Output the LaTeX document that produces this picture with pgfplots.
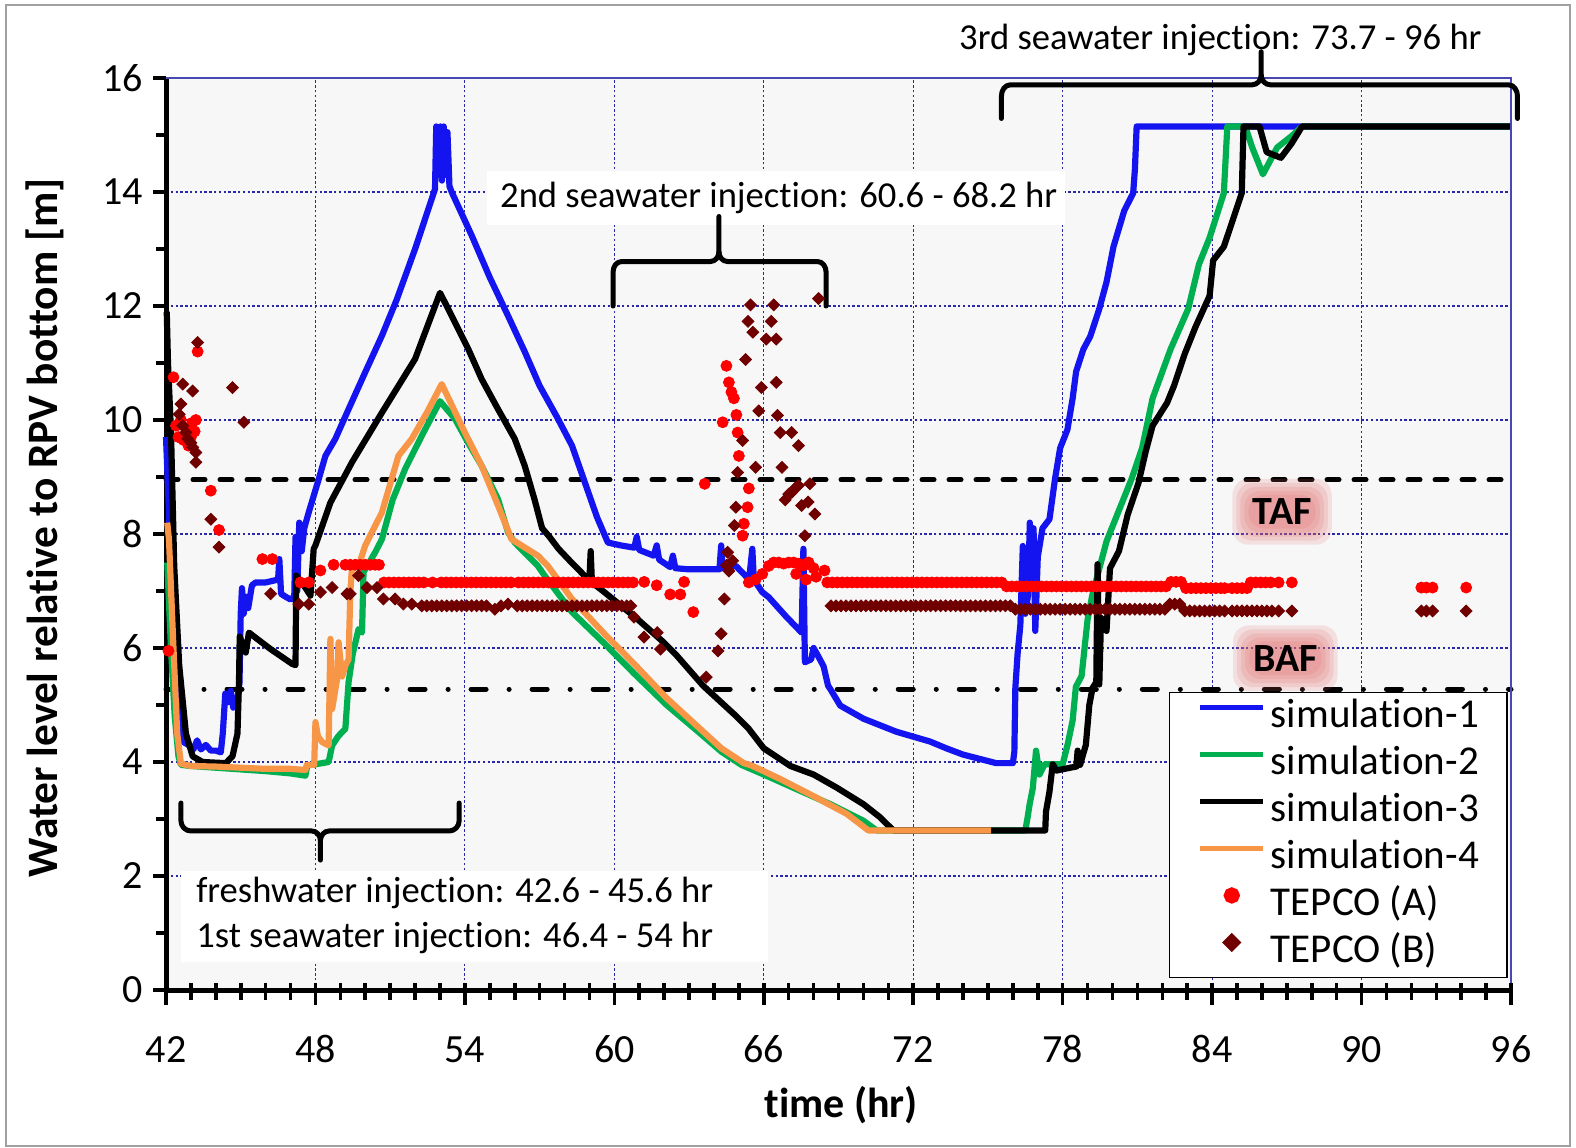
\documentclass[border=0pt]{standalone}
\usepackage{pgfplots}
\pgfplotsset{compat=1.18}
\usepackage{fontspec}
\setmainfont{Carlito}[Ligatures={NoCommon,NoContextual}]
\usetikzlibrary{calc}

\definecolor{simblue}{RGB}{20,20,240}
\definecolor{simgreen}{RGB}{0,176,80}
\definecolor{simorange}{RGB}{247,150,70}
\definecolor{tepcoA}{RGB}{255,0,0}
\definecolor{tepcoB}{RGB}{112,0,0}
\definecolor{gridblue}{RGB}{40,40,165}
\definecolor{plotbg}{RGB}{247,247,247}
\definecolor{glow}{RGB}{228,105,105}
\definecolor{framegray}{RGB}{160,160,160}

\newcommand{\annfont}{\fontsize{18.3bp}{22bp}\selectfont}
\newcommand{\tickfont}{\fontsize{20bp}{24bp}\selectfont}
\newcommand{\labfont}{\bfseries\fontsize{21bp}{25bp}\selectfont}
\newcommand{\ylabfont}{\bfseries\fontsize{21.7bp}{26bp}\selectfont}

\begin{document}
\begin{tikzpicture}
\begin{axis}[
  scale only axis,
  width=672.5bp, height=456bp,
  xmin=42, xmax=96, ymin=0, ymax=16,
  clip=false,
  xtick={42,48,...,96}, ytick={0,2,...,16},
  minor y tick num=1,
  axis x line*=bottom, axis y line*=left,
  axis line style={line width=2.5bp, black},
  tick align=outside,
  major tick length=6.5bp, minor tick length=5bp,
  y tick style={black, line width=1.8bp},
  x tick style={draw=none},
  axis background/.style={fill=plotbg},
  grid=major,
  major grid style={gridblue, line width=0.6bp, dash pattern=on 1.2bp off 1.2bp},
  /pgf/number format/assume math mode=true,
  ticklabel style={font=\tickfont},
  every x tick label/.style={anchor=base, yshift=-29.75bp},
  every y tick label/.style={anchor=east, xshift=-1.5bp},
  xlabel={time (hr)},
  ylabel={Water level relative to RPV bottom [m]},
  every axis x label/.style={at={(axis description cs:0.502,-0.126)}, anchor=center, font=\labfont},
  every axis y label/.style={at={(axis description cs:-0.0900,0.5066)}, anchor=center, rotate=90, font=\ylabfont},
  legend style={
    at={(axis cs:95.86,0.21)}, anchor=south east,
    draw=black, line width=0.6bp, fill=white,
    font=\fontsize{20.5bp}{24bp}\selectfont,
    inner xsep=14bp, inner ysep=3bp,
    row sep=4.5bp,
    nodes={inner sep=0pt, text height=14.5bp, text depth=4.5bp},
    /tikz/every odd column/.append style={column sep=2.5bp},
  },
  legend cell align=left,
  legend image code/.code={\draw[mark repeat=2,mark phase=2,#1,line width=2.6bp] plot coordinates {(0bp,5bp) (15.75bp,5bp) (31.5bp,5bp)};},
]

% core level references
\addplot[black, line width=2.5bp, line cap=round, dash pattern=on 6bp off 7.5bp, forget plot] coordinates {(42,8.95) (96,8.95)};
\addplot[black, line width=2.5bp, line cap=round, dash pattern=on 7.5bp off 11.5bp on 0.01bp off 11.5bp, forget plot] coordinates {(42,5.28) (96,5.28)};

% simulation-1
\addplot[simblue, line width=3.1bp, line join=round] coordinates {
(42.0,9.7) (42.1,8.6) (42.25,6.8) (42.4,5.4) (42.55,4.6) (42.7,4.35) (42.9,4.3) (43.1,4.22)
(43.25,4.38) (43.4,4.22) (43.6,4.3) (43.8,4.2) (44.0,4.2) (44.2,4.17) (44.28,4.5) (44.38,5.2)
(44.5,5.05) (44.6,5.25) (44.7,4.95) (44.85,5.0) (44.95,5.4) (45.0,6.6) (45.05,7.05) (45.12,6.6)
(45.2,6.9) (45.3,6.7) (45.45,7.1) (45.6,7.15) (46.0,7.15) (46.3,7.18) (46.5,7.2) (46.55,7.56)
(46.62,6.95) (46.8,6.9) (47.0,6.85) (47.15,6.9) (47.2,7.95) (47.27,7.0) (47.35,8.2) (47.45,7.7)
(47.55,8.1) (47.73,8.38) (48.13,8.96) (48.4,9.37) (48.8,9.67) (49.33,10.19) (50.0,10.84)
(50.67,11.48) (51.27,12.12) (52.0,13.0) (52.8,14.05) (52.85,15.15) (52.95,14.3) (53.02,15.15)
(53.08,14.2) (53.15,15.15) (53.22,14.3) (53.3,15.05) (53.38,14.1) (53.47,14.0) (54.27,13.24)
(55.0,12.5) (55.73,11.83) (56.4,11.2) (57.0,10.6) (57.7,10.05) (58.3,9.55) (58.9,8.8) (59.3,8.3)
(59.74,7.85) (60.26,7.8) (60.8,7.76) (60.9,7.95) (61.0,7.72) (61.58,7.62) (61.7,7.8) (61.8,7.55)
(62.24,7.42) (62.35,7.62) (62.45,7.4) (63.0,7.38) (64.22,7.38) (64.29,7.8) (64.35,7.4) (64.88,7.44)
(65.41,7.2) (65.54,7.74) (65.6,7.2) (65.94,6.98) (66.2,6.89) (66.9,6.55) (67.52,6.27) (67.59,7.74)
(67.65,5.75) (67.9,5.8) (68.0,6.0) (68.18,5.86) (68.4,5.68) (68.58,5.34) (68.67,5.28) (69.07,4.99)
(70.0,4.76) (71.33,4.53) (72.67,4.36) (73.33,4.24) (74.0,4.13) (75.33,3.98) (76.0,3.98) (76.06,4.18)
(76.1,5.3) (76.19,5.9) (76.3,6.4) (76.4,7.79) (76.5,6.6) (76.61,6.93) (76.68,8.2) (76.76,7.4)
(76.83,8.1) (76.9,6.3) (77.0,7.6) (77.19,8.1) (77.47,8.26) (77.69,8.96) (77.9,9.51) (78.19,9.83)
(78.4,10.38) (78.54,10.85) (78.83,11.24) (79.11,11.47) (79.47,11.95) (79.76,12.42) (80.04,13.04)
(80.47,13.67) (80.83,13.98) (80.9,14.4) (80.97,15.15) (96,15.15)
};
\addlegendentry{simulation-1}

% simulation-2
\addplot[simgreen, line width=3.1bp, line join=round] coordinates {
(42.05,7.5) (42.2,6.0) (42.35,4.8) (42.5,4.1) (42.6,3.95) (43.0,3.93) (44.0,3.9) (45.0,3.87)
(46.0,3.84) (47.0,3.8) (47.6,3.76) (47.67,3.94) (48.0,3.96) (48.53,4.0) (48.67,4.29) (48.93,4.46)
(49.2,4.58) (49.33,5.4) (49.5,5.9) (49.73,6.33) (49.87,6.27) (49.93,7.33) (50.4,7.68) (50.67,7.91)
(51.1,8.6) (51.6,9.14) (52.3,9.75) (53.0,10.33) (53.6,10.02) (54.13,9.6) (54.67,9.2) (55.33,8.61)
(55.73,8.03) (56.0,7.85) (56.93,7.44) (57.2,7.27) (58.3,6.63) (59.6,6.08) (60.8,5.55) (62.1,5.0)
(63.4,4.52) (64.3,4.18) (65.1,3.95) (66.0,3.78) (67.33,3.52) (68.67,3.26) (70.0,2.97) (70.53,2.8)
(76.5,2.8) (76.6,3.05) (76.67,3.25) (76.8,3.54) (76.93,4.2) (77.07,3.78) (77.27,3.96) (78.0,3.96)
(78.2,4.31) (78.4,4.73) (78.53,5.32) (78.76,5.51) (79.0,6.5) (79.19,6.93) (79.76,7.87) (80.19,8.34)
(80.76,8.96) (81.19,9.51) (81.61,10.38) (82.33,11.24) (83.04,11.95) (83.47,12.73) (83.9,13.2)
(84.47,13.98) (84.61,15.15) (85.33,15.15) (85.61,14.78) (86.04,14.31) (86.61,14.78) (87.19,14.98)
(87.61,15.15) (96,15.15)
};
\addlegendentry{simulation-2}

% simulation-3
\addplot[black, line width=3.1bp, line join=round] coordinates {
(42.03,11.9) (42.08,11.0) (42.2,9.8) (42.33,7.44) (42.53,5.7) (42.8,4.5) (43.07,4.1) (43.47,4.0)
(44.4,3.98) (44.67,4.1) (44.87,4.5) (44.93,5.4) (44.96,6.2) (45.2,5.92) (45.33,6.27) (46.2,5.98)
(47.07,5.72) (47.2,5.7) (47.23,7.27) (47.53,7.1) (47.8,6.92) (47.93,7.74) (48.0,7.8) (48.6,8.55)
(49.47,9.26) (50.67,10.13) (52.0,11.07) (53.0,12.23) (53.33,11.95) (54.13,11.25) (54.67,10.72)
(55.33,10.19) (56.0,9.67) (56.4,9.2) (56.8,8.6) (57.1,8.1) (57.36,7.97) (57.76,7.74) (58.28,7.5)
(58.8,7.27) (59.0,7.2) (59.05,7.7) (59.1,7.15) (59.6,6.98) (60.92,6.51) (61.98,6.1) (62.5,5.87)
(63.56,5.34) (64.88,4.81) (65.4,4.58) (66.0,4.24) (67.07,3.93) (68.0,3.78) (68.93,3.55) (70.0,3.26)
(70.67,3.03) (71.2,2.8) (77.3,2.8) (77.33,3.13) (77.47,3.48) (77.6,3.96) (77.75,3.85) (78.3,3.9)
(78.55,3.92) (78.6,4.2) (78.7,3.95) (78.93,4.3) (79.07,5.0) (79.2,5.3) (79.35,5.4) (79.4,7.47)
(79.47,5.36) (79.54,6.53) (79.76,6.3) (79.9,7.4) (80.26,7.7) (80.61,8.34) (81.04,8.89) (81.33,9.44)
(81.61,9.9) (82.19,10.3) (82.47,10.6) (82.9,11.16) (83.33,11.63) (83.9,12.18) (84.04,12.8)
(84.47,13.04) (84.9,13.6) (85.19,13.98) (85.26,15.15) (85.9,15.15) (86.19,14.7) (86.76,14.6)
(87.19,14.85) (87.61,15.15) (96,15.15)
};
\addlegendentry{simulation-3}

% simulation-4
\addplot[simorange, line width=3.1bp, line join=round] coordinates {
(42.05,8.2) (42.12,7.9) (42.3,6.0) (42.45,4.5) (42.6,3.97) (43.0,3.93) (44.0,3.92) (45.0,3.9)
(46.0,3.88) (47.0,3.88) (47.6,3.86) (47.65,3.95) (47.95,3.95) (48.0,4.7) (48.1,4.45) (48.27,4.35)
(48.53,4.29) (48.6,6.16) (48.67,4.93) (48.87,5.46) (48.93,6.1) (49.07,5.5) (49.2,5.69) (49.33,5.8)
(49.4,6.98) (49.47,7.44) (49.73,7.44) (50.0,7.8) (50.67,8.38) (51.33,9.37) (51.87,9.67) (52.5,10.15)
(53.07,10.63) (54.0,9.78) (54.67,9.2) (55.33,8.5) (55.87,7.91) (56.93,7.62) (57.33,7.44) (58.3,6.86)
(59.6,6.25) (60.8,5.72) (62.1,5.12) (63.4,4.6) (64.3,4.24) (65.2,3.98) (65.5,3.94) (66.67,3.7)
(68.0,3.4) (69.33,3.09) (70.2,2.8) (75.13,2.8)
};
\addlegendentry{simulation-4}

% TEPCO (A)
\addplot[only marks, mark=*, mark size=2.75bp, color=tepcoA, mark options={draw=none, fill=tepcoA}] coordinates {
(42.1,5.95) (42.3,10.75) (42.4,9.9) (42.5,9.7) (42.6,10.0) (42.7,9.65) (42.8,9.85) (42.9,9.55)
(43.0,9.7) (43.05,9.95) (43.15,9.8) (43.2,10.0) (43.27,11.2) (43.8,8.76) (44.13,8.07) (45.87,7.56)
(46.27,7.56) (47.4,7.15) (47.73,7.15) (48.2,7.36) (48.73,7.46)
(49.2,7.46) (49.4,7.46) (49.6,7.46) (49.8,7.46) (50.0,7.46) (50.2,7.46) (50.4,7.46) (50.55,7.46)
(50.75,7.15) (50.95,7.15) (51.15,7.15) (51.35,7.15) (51.55,7.15) (51.75,7.15) (51.95,7.15)
(52.15,7.15) (52.35,7.15) (52.7,7.15) (53.05,7.15) (53.25,7.15) (53.45,7.15) (53.65,7.15)
(53.85,7.15) (54.05,7.15) (54.25,7.15) (54.45,7.15) (54.65,7.15) (54.85,7.15) (55.05,7.15)
(55.25,7.15) (55.45,7.15) (55.65,7.15) (55.85,7.15) (56.15,7.15) (56.35,7.15) (56.55,7.15)
(56.75,7.15) (56.95,7.15) (57.15,7.15) (57.35,7.15) (57.55,7.15) (57.75,7.15) (57.95,7.15)
(58.15,7.15) (58.35,7.15) (58.55,7.15) (58.75,7.15) (58.95,7.15) (59.15,7.15) (59.35,7.15)
(59.55,7.15) (59.75,7.15) (59.95,7.15) (60.15,7.15) (60.35,7.15) (60.55,7.15) (60.75,7.15)
(61.2,7.16) (61.7,7.1) (62.24,6.94) (62.65,6.94) (62.8,7.16) (63.17,6.63) (63.63,8.88)
(64.35,9.96) (64.5,10.95) (64.6,10.66) (64.7,10.49) (64.8,10.38) (64.9,10.09) (64.95,9.78)
(65.0,9.37) (65.4,8.8) (65.35,8.47) (65.2,8.18) (65.15,7.97)
(65.4,7.15) (65.67,7.2) (65.94,7.3) (66.2,7.44) (66.4,7.5) (66.6,7.5) (66.8,7.48) (67.0,7.5)
(67.2,7.5) (67.4,7.48) (67.6,7.45) (67.8,7.5) (68.0,7.4) (67.3,7.3) (67.7,7.2) (68.1,7.25) (68.44,7.36)
(68.55,7.15) (68.75,7.15) (68.95,7.15) (69.15,7.15) (69.35,7.15) (69.55,7.15) (69.75,7.15)
(69.95,7.15) (70.15,7.15) (70.35,7.15) (70.55,7.15) (70.75,7.15) (70.95,7.15) (71.15,7.15)
(71.35,7.15) (71.55,7.15) (71.75,7.15) (71.95,7.15) (72.15,7.15) (72.35,7.15) (72.55,7.15)
(72.75,7.15) (72.95,7.15) (73.15,7.15) (73.35,7.15) (73.55,7.15) (73.75,7.15) (73.95,7.15)
(74.15,7.15) (74.35,7.15) (74.55,7.15) (74.75,7.15) (74.95,7.15) (75.15,7.15) (75.35,7.15) (75.55,7.15)
(75.75,7.08) (75.95,7.08) (76.15,7.08) (76.35,7.08) (76.55,7.08) (76.75,7.08) (76.95,7.08)
(77.15,7.08) (77.35,7.08) (77.55,7.08) (77.75,7.08) (77.95,7.08) (78.15,7.08) (78.35,7.08)
(78.55,7.08) (78.75,7.08) (78.95,7.08) (79.15,7.08) (79.35,7.08) (79.55,7.08) (79.75,7.08)
(79.95,7.08) (80.15,7.08) (80.35,7.08) (80.55,7.08) (80.75,7.08) (80.95,7.08) (81.15,7.08)
(81.35,7.08) (81.55,7.08) (81.75,7.08) (81.95,7.08) (82.15,7.08)
(82.35,7.16) (82.55,7.16) (82.75,7.16)
(82.95,7.05) (83.15,7.05) (83.35,7.05) (83.55,7.05) (83.75,7.05) (83.95,7.05) (84.15,7.05)
(84.35,7.05) (84.5,7.05) (84.8,7.05) (85.0,7.05) (85.2,7.05) (85.4,7.05)
(85.55,7.15) (85.75,7.15) (85.95,7.15) (86.15,7.15) (86.35,7.15) (86.67,7.15) (87.2,7.15)
(92.4,7.06) (92.6,7.06) (92.85,7.06) (94.2,7.06)
};
\addlegendentry{TEPCO (A)}

% TEPCO (B)
\addplot[only marks, mark=square*, mark size=2.1bp, color=tepcoB, mark options={rotate=45, draw=none, fill=tepcoB}] coordinates {
(42.53,10.1) (42.6,10.28) (42.67,10.63) (42.67,9.9) (42.8,9.78) (42.87,9.67) (43.0,9.6) (43.07,10.51)
(43.07,9.52) (43.2,9.43) (43.2,9.26) (43.27,11.36) (43.8,8.26) (44.13,7.77) (44.67,10.57) (45.13,9.96)
(46.2,6.95) (47.33,6.77) (47.73,6.77) (48.2,6.98) (48.67,7.06) (49.27,6.95) (49.4,6.95) (49.73,7.27)
(50.07,7.06) (50.47,7.06) (50.73,6.86) (51.2,6.86) (51.53,6.77) (51.87,6.77)
(52.27,6.74) (52.47,6.74) (52.67,6.74) (52.87,6.74) (53.07,6.74) (53.27,6.74) (53.47,6.74)
(53.67,6.74) (53.87,6.74) (54.07,6.74) (54.27,6.74) (54.47,6.74) (54.67,6.74) (54.87,6.74)
(55.2,6.68) (55.45,6.74) (55.73,6.77) (56.1,6.74) (56.3,6.74) (56.5,6.74) (56.7,6.74) (56.9,6.74)
(57.1,6.74) (57.3,6.74) (57.5,6.74) (57.7,6.74) (57.9,6.74) (58.1,6.74) (58.3,6.74) (58.5,6.74)
(58.7,6.74) (58.9,6.74) (59.1,6.74) (59.3,6.74) (59.5,6.74) (59.7,6.74) (59.9,6.74) (60.1,6.74)
(60.3,6.74) (60.5,6.74) (60.66,6.74)
(60.79,6.54) (61.19,6.19) (61.72,6.27) (61.85,5.98) (63.69,5.49) (64.16,5.95) (64.29,6.25)
(64.42,6.86) (64.5,7.45) (64.55,7.68) (64.6,7.35) (64.75,7.53) (64.82,8.15) (64.88,8.47) (64.95,9.08)
(65.15,9.64) (65.27,11.06) (65.37,11.73) (65.47,12.02) (65.56,11.54) (65.67,9.17) (65.8,10.16)
(65.9,10.57) (66.1,11.42) (66.3,11.73) (66.4,12.02) (66.5,11.42) (66.5,10.66) (66.55,10.08)
(66.66,9.78) (66.73,9.17) (66.86,8.6) (67.0,8.7) (67.12,9.78) (67.12,8.73) (67.25,8.8) (67.39,9.55)
(67.39,8.85) (67.52,8.5) (67.65,7.97) (67.78,8.56) (67.85,8.88) (68.05,8.35) (68.2,12.13)
(68.7,6.74) (68.9,6.74) (69.1,6.74) (69.3,6.74) (69.5,6.74) (69.7,6.74) (69.9,6.74) (70.1,6.74)
(70.3,6.74) (70.5,6.74) (70.7,6.74) (70.9,6.74) (71.1,6.74) (71.3,6.74) (71.5,6.74) (71.7,6.74)
(71.9,6.74) (72.1,6.74) (72.3,6.74) (72.5,6.74) (72.7,6.74) (72.9,6.74) (73.1,6.74) (73.3,6.74)
(73.5,6.74) (73.7,6.74) (73.9,6.74) (74.1,6.74) (74.3,6.74) (74.5,6.74) (74.7,6.74) (74.9,6.74)
(75.1,6.74) (75.3,6.74) (75.5,6.74) (75.7,6.74) (75.9,6.74)
(76.1,6.68) (76.3,6.68) (76.5,6.68) (76.7,6.68) (76.9,6.68) (77.1,6.68) (77.3,6.68) (77.5,6.68)
(77.7,6.68) (77.9,6.68) (78.1,6.68) (78.3,6.68) (78.5,6.68) (78.7,6.68) (78.9,6.68) (79.1,6.68)
(79.3,6.68) (79.5,6.68) (79.7,6.68) (79.9,6.68) (80.1,6.68) (80.3,6.68) (80.5,6.68) (80.7,6.68)
(80.9,6.68) (81.1,6.68) (81.3,6.68) (81.5,6.68) (81.7,6.68) (81.9,6.68) (82.1,6.68)
(82.3,6.77) (82.5,6.77) (82.7,6.77)
(82.9,6.65) (83.1,6.65) (83.3,6.65) (83.5,6.65) (83.7,6.65) (83.9,6.65) (84.1,6.65) (84.3,6.65)
(84.5,6.65) (84.8,6.65) (85.0,6.65) (85.2,6.65) (85.4,6.65) (85.6,6.65) (85.8,6.65) (86.0,6.65)
(86.2,6.65) (86.4,6.65) (86.67,6.65) (87.2,6.65)
(92.4,6.65) (92.6,6.65) (92.85,6.65) (94.2,6.65)
};
\addlegendentry{TEPCO (B)}

% plot-area border on the top and right sides
\draw[gridblue!85!white, line width=0.9bp] (rel axis cs:0,1) -- (rel axis cs:1,1) -- (rel axis cs:1,0);

% x ticks: minor every hour, major every 6 hours, crossing the axis line
\pgfplotsinvokeforeach{42,...,96}{
  \draw[black, line width=1.8bp] ([yshift=3.5bp]axis cs:#1,0) -- ([yshift=-5bp]axis cs:#1,0);
}
\pgfplotsinvokeforeach{42,48,...,96}{
  \draw[black, line width=1.8bp] ([yshift=3.5bp]axis cs:#1,0) -- ([yshift=-7.5bp]axis cs:#1,0);
}

% injection periods
\fill[white] (axis cs:42.6,0.49) rectangle (axis cs:66.18,2.09);
\node[anchor=west, font=\annfont, inner sep=0pt] at (axis cs:43.2,1.70) {freshwater injection: 42.6 - 45.6 hr};
\node[anchor=west, font=\annfont, inner sep=0pt] at (axis cs:43.2,0.91) {1st seawater injection: 46.4 - 54 hr};
\draw[black, line width=2.5bp, line cap=round, line join=round]
  (axis cs:42.6,3.28) -- (axis cs:42.6,2.97) to[out=-90,in=180] (axis cs:43.0,2.79)
  -- (axis cs:47.85,2.79) to[out=0,in=90] (axis cs:48.2,2.62) -- (axis cs:48.2,2.28);
\draw[black, line width=2.5bp, line cap=round, line join=round]
  (axis cs:53.77,3.28) -- (axis cs:53.77,2.97) to[out=-90,in=0] (axis cs:53.37,2.79)
  -- (axis cs:48.55,2.79) to[out=180,in=90] (axis cs:48.2,2.62);

\fill[white] (axis cs:54.9,13.42) rectangle (axis cs:78.1,14.36);
\node[font=\annfont, inner sep=0pt] at (axis cs:66.6,13.9) {2nd seawater injection: 60.6 - 68.2 hr};
\draw[black, line width=2.5bp, line cap=round, line join=round]
  (axis cs:59.95,12.0) -- (axis cs:59.95,12.6) to[out=90,in=180] (axis cs:60.3,12.78)
  -- (axis cs:63.85,12.78) to[out=0,in=-90] (axis cs:64.2,12.95) -- (axis cs:64.2,13.57);
\draw[black, line width=2.5bp, line cap=round, line join=round]
  (axis cs:68.5,12.0) -- (axis cs:68.5,12.6) to[out=90,in=0] (axis cs:68.15,12.78)
  -- (axis cs:64.55,12.78) to[out=180,in=-90] (axis cs:64.2,12.95);

\draw[black, line width=2.5bp, line cap=round, line join=round]
  (axis cs:75.54,15.29) -- (axis cs:75.54,15.68) to[out=90,in=180] (axis cs:75.9,15.88)
  -- (axis cs:85.6,15.88) to[out=0,in=-90] (axis cs:85.97,16.05) -- (axis cs:85.97,16.46);
\draw[black, line width=2.5bp, line cap=round, line join=round]
  (axis cs:96.26,15.29) -- (axis cs:96.26,15.68) to[out=90,in=0] (axis cs:95.9,15.88)
  -- (axis cs:86.34,15.88) to[out=180,in=-90] (axis cs:85.97,16.05);
\node[font=\annfont, inner sep=0pt] at (axis cs:84.33,16.67) {3rd seawater injection: 73.7 - 96 hr};

\coordinate (taf) at (axis cs:86.81,8.39);
\coordinate (baf) at (axis cs:86.94,5.82);
\coordinate (SW) at (rel axis cs:0,0);
\coordinate (NE) at (rel axis cs:1,1);
\end{axis}

% soft halo behind the fuel-level labels
\foreach \p/\t in {taf/TAF, baf/BAF}{
  \foreach \s in {10bp,8bp,6bp,4bp,2bp}{
    \node[fill=glow, fill opacity=0.17, text opacity=0, rounded corners=8bp, inner sep=\s,
          font=\bfseries\fontsize{20bp}{24bp}\selectfont] at (\p) {\t};
  }
  \node[font=\bfseries\fontsize{20bp}{24bp}\selectfont, inner sep=0pt] at (\p) {\t};
}

\pgfresetboundingbox
\path[use as bounding box] ($(SW)+(-83bp,-78.5bp)$) rectangle ($(NE)+(32.5bp,39bp)$);
\draw[framegray, line width=1bp] ($(SW)+(-80bp,-77.8bp)$) rectangle ($(NE)+(29.5bp,36.5bp)$);
\end{tikzpicture}
\end{document}
